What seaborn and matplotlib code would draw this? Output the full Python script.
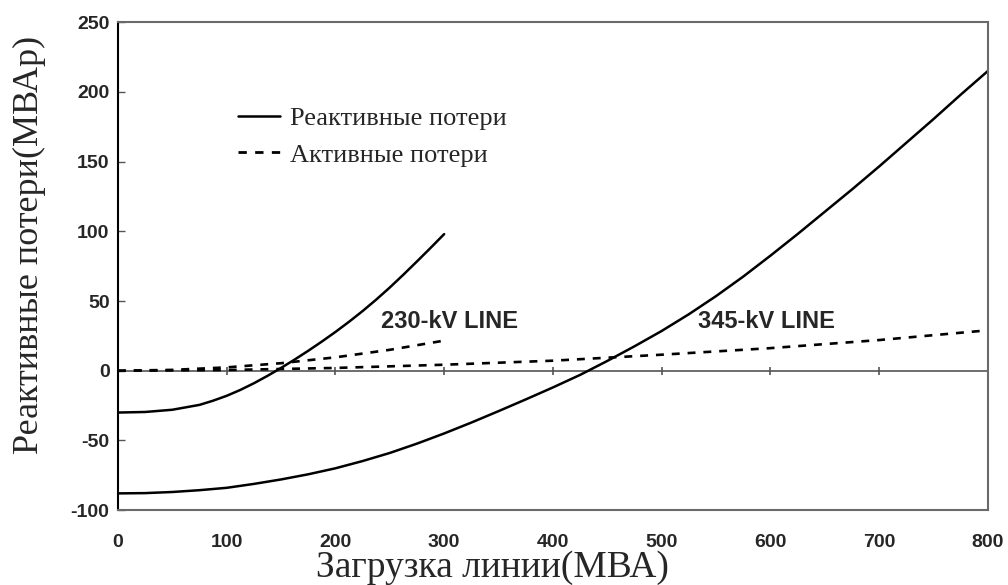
import numpy as np
import pandas as pd
import seaborn as sns
import matplotlib.pyplot as plt
from matplotlib.lines import Line2D

# --- dados ---
load_230 = [0, 25, 50, 75, 87.5, 100, 112.5, 125, 137.5, 150, 162.5, 175, 187.5,
            200, 212.5, 225, 237.5, 250, 262.5, 275, 287.5, 300]
q_230 = [-30, -29.6, -28, -24.5, -21.5, -18, -13.8, -9, -3.7, 2, 8, 14.3, 20.9,
         27.8, 35.1, 42.8, 51, 59.7, 68.9, 78.4, 88.1, 98]
load_230_p = [0, 50, 100, 150, 200, 250, 300]
p_230 = [0, 0.6, 2.4, 5.4, 9.6, 15, 21.6]

load_345 = [0, 25, 50, 75, 100, 125, 150, 175, 200, 225, 250, 275, 300, 325, 350,
            375, 400, 425, 450, 475, 500, 525, 550, 575, 600, 625, 650, 675, 700,
            725, 750, 775, 800]
q_345 = [-88, -87.8, -87, -85.7, -84, -81.2, -78, -74.3, -70, -64.8, -59, -52.3,
         -45, -37.2, -29, -20.6, -12, -3, 7, 17.5, 28.5, 40.5, 53.5, 67.5, 82.5,
         98, 114, 130, 146.5, 163.5, 180.5, 198, 215]
load_345_p = [0, 100, 200, 300, 400, 500, 600, 700, 800]
p_345 = [0, 0.5, 2, 4.3, 7.2, 11.5, 16.2, 22, 29]

x_ticks = [0, 100, 200, 300, 400, 500, 600, 700, 800]
y_ticks = [-100, -50, 0, 50, 100, 150, 200, 250]

sns.set_style('white')
plt.rcParams['font.family'] = ['Liberation Sans', 'DejaVu Sans']
plt.rcParams['axes.unicode_minus'] = False

fig = plt.figure(figsize=(10.08, 5.85), dpi=100)
ax = fig.add_axes([0.117, 0.128, 0.863, 0.834])

df_q = pd.concat([
    pd.DataFrame({'load': load_230, 'val': q_230, 'line': '230'}),
    pd.DataFrame({'load': load_345, 'val': q_345, 'line': '345'}),
])
df_p = pd.concat([
    pd.DataFrame({'load': load_230_p, 'val': p_230, 'line': '230'}),
    pd.DataFrame({'load': load_345_p, 'val': p_345, 'line': '345'}),
])

sns.lineplot(data=df_q, x='load', y='val', units='line', estimator=None,
             color='black', linewidth=1.8, ax=ax, legend=False)
sns.lineplot(data=df_p, x='load', y='val', units='line', estimator=None,
             color='black', linewidth=1.9, ax=ax, legend=False)
for l in ax.lines[2:]:
    l.set_linestyle((0, (3, 3)))

# linha do zero com marcas
ax.axhline(0, color='#555555', linewidth=1.2, zorder=1)
ax.vlines(x_ticks[1:], -3, 3, color='#555555', linewidth=1.2)

ax.set_xlim(0, 800)
ax.set_ylim(-100, 250)
ax.set_xticks(x_ticks)
ax.set_yticks(y_ticks)
ax.tick_params(axis='x', length=0, pad=17, labelsize=14)
ax.tick_params(axis='y', direction='in', length=5, width=1, color='#555555',
               left=True, pad=6, labelsize=14)
for lab in ax.get_xticklabels() + ax.get_yticklabels():
    lab.set_fontweight('bold')

for side in ['top', 'right', 'bottom']:
    ax.spines[side].set_color('#6a6a6a')
    ax.spines[side].set_linewidth(1.5)
ax.spines['left'].set_color('black')
ax.spines['left'].set_linewidth(1.5)

serif = ['Liberation Serif', 'DejaVu Serif']
ax.set_xlabel('Загрузка линии(МВА)', family=serif, fontsize=27, va='bottom')
ax.xaxis.set_label_coords(0.43, -0.153)
ax.set_ylabel('Реактивные потери(МВАр)', family=serif, fontsize=26)
ax.yaxis.set_label_coords(-0.083, 0.543)

ax.text(305, 35, '230-kV LINE', fontsize=17, fontweight='bold', ha='center', va='center')
ax.text(596, 35, '345-kV LINE', fontsize=17, fontweight='bold', ha='center', va='center')

handles = [Line2D([], [], color='black', linewidth=1.8),
           Line2D([], [], color='black', linewidth=2, linestyle=(0, (3, 3)))]
ax.legend(handles, ['Реактивные потери', 'Активные потери'], loc='upper left',
          bbox_to_anchor=(0.111, 0.876), frameon=False, handlelength=1.6,
          handletextpad=0.35, labelspacing=0.5, prop={'family': serif, 'size': 19})

fig.savefig('out.png', dpi=100)
